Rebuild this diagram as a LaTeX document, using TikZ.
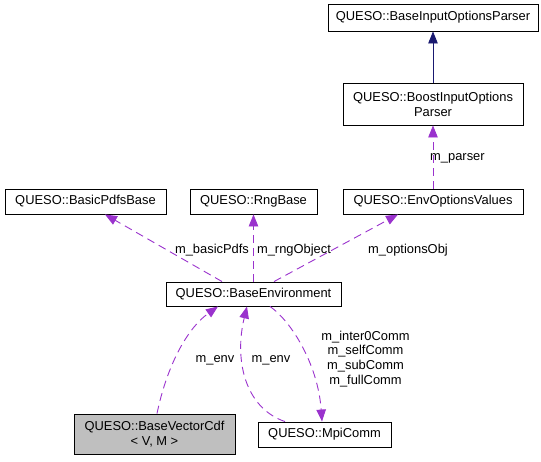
\documentclass[tikz,border=0pt]{standalone}
\usepackage{fontspec}
\setmainfont{Liberation Sans}
\usetikzlibrary{arrows.meta}
\definecolor{purp}{HTML}{9A32CD}
\definecolor{navyc}{HTML}{191970}
\begin{document}
\begin{tikzpicture}[x=1pt,y=-1pt,
  box/.style={draw,line width=0.9pt,inner sep=0pt,align=center,font=\fontsize{12.9}{15}\selectfont},
  lbl/.style={inner sep=0pt,align=center,font=\fontsize{12.9}{14.7}\selectfont},
  use/.style={purp,dashed,dash pattern=on 8pt off 5pt,line width=0.9pt,-{Triangle[length=12pt,width=9.5pt]}},
  inh/.style={navyc,line width=0.9pt,-{Triangle[length=12pt,width=9.5pt]}}]
\useasboundingbox (0,0) rectangle (541,461);
\node[box,minimum width=210pt,minimum height=27pt] (bip) at (433,17.5) {QUESO::BaseInputOptionsParser};
\node[box,minimum width=180pt,minimum height=42pt] (boost) at (433,104) {QUESO::BoostInputOptions\\Parser};
\node[box,minimum width=180pt,minimum height=25pt] (eov) at (433,201.5) {QUESO::EnvOptionsValues};
\node[box,minimum width=161pt,minimum height=25pt] (bpb) at (85.5,201.5) {QUESO::BasicPdfsBase};
\node[box,minimum width=127pt,minimum height=25pt] (rng) at (253.5,201.5) {QUESO::RngBase};
\node[box,minimum width=175pt,minimum height=24pt] (env) at (253.5,294) {QUESO::BaseEnvironment};
\node[box,fill=black!25,minimum width=161pt,minimum height=40pt] (cdf) at (154.5,434) {QUESO::BaseVectorCdf\\\textless{} V, M \textgreater{}};
\node[box,minimum width=133pt,minimum height=25pt] (mpi) at (324.5,434.5) {QUESO::MpiComm};

\draw[inh] (boost.north) -- (bip.south);
\draw[use] (eov.north) -- (boost.south);
\node[lbl,anchor=west] (lparser) at (430,158) {m\_parser};

\draw[use] ([xshift=-31.5pt]env.north) -- ([xshift=19.5pt]bpb.south);
\node[lbl] (lbasic) at (212,250) {m\_basicPdfs};
\draw[use] (env.north) -- (rng.south);
\node[lbl] (lrng) at (294,250) {m\_rngObject};
\draw[use] ([xshift=20.5pt]env.north) -- ([xshift=-35pt]eov.south);
\node[lbl] (lopt) at (408,250) {m\_optionsObj};

\draw[use] ([xshift=2.5pt]cdf.north) .. controls (166,370) and (185,330) .. ([xshift=-35.5pt]env.south);
\node[lbl] (lenv1) at (215,360) {m\_env};
\draw[use] ([xshift=-39.5pt]mpi.north) .. controls (245,408) and (234,360) .. ([xshift=-6.5pt]env.south);
\node[lbl] (lenv2) at (271,360) {m\_env};
\draw[use] ([xshift=16.5pt]env.south) .. controls (292,322) and (318,365) .. ([xshift=-2.5pt]mpi.north);
\node[lbl] (lcomm) at (365.5,358.7) {m\_inter0Comm\\m\_selfComm\\m\_subComm\\m\_fullComm};
\end{tikzpicture}
\end{document}
